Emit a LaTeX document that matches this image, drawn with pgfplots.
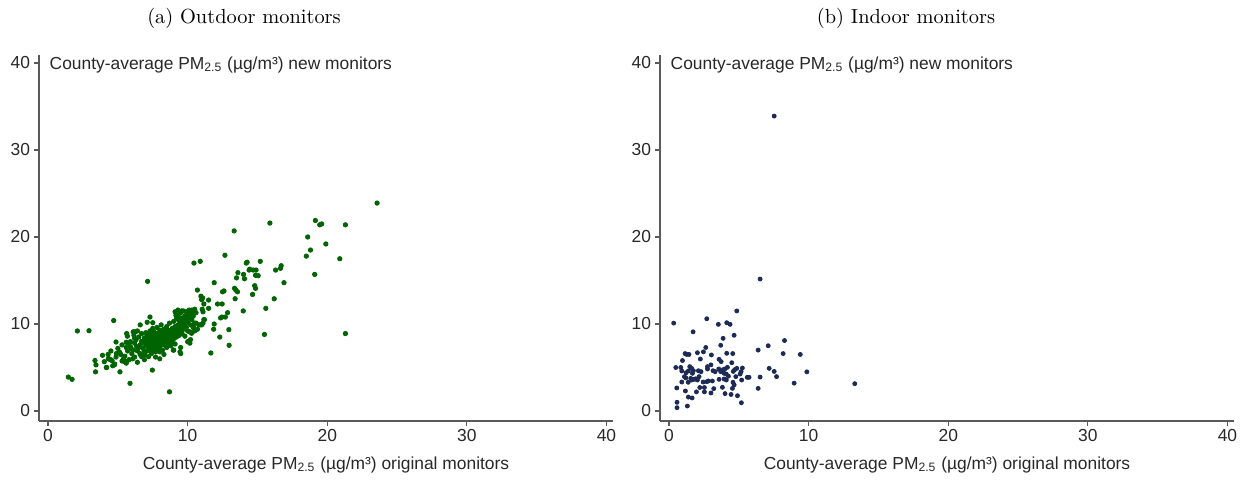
\documentclass[border=0pt]{standalone}
\usepackage{fontspec}
\usepackage{pgfplots}
\pgfplotsset{compat=1.18}
\newfontfamily\hv{Liberation Sans}
\definecolor{outg}{RGB}{0,100,0}
\definecolor{innav}{RGB}{28,42,84}
\definecolor{axg}{RGB}{90,90,90}
\definecolor{txg}{RGB}{40,40,40}
\pgfplotsset{stataax/.style={
  scale only axis, width=287pt, height=183pt,
  xmin=-0.65, xmax=40.47, ymin=-1.15, ymax=40.92,
  axis lines=left, axis line style={-, axg, line width=0.6pt},
  xtick={0,10,20,30,40}, ytick={0,10,20,30,40},
  tick style={axg, line width=0.6pt}, major tick length=2.5pt, tick align=outside,
  /pgf/number format/assume math mode=true,
  tick label style={font=\hv\fontsize{8.7}{10}\selectfont, text=txg},
  xticklabel style={yshift=2pt}, yticklabel style={xshift=1.5pt},
  clip=false,
}}
\newcommand{\lab}{\hv\fontsize{8.7}{10}\selectfont}
\begin{document}
\begin{tikzpicture}
\path[use as bounding box] (-19.5pt,-30pt) rectangle (604pt,210.5pt);
\begin{axis}[stataax, at={(0pt,0pt)}, anchor=south west]
\addplot[only marks, mark=*, mark size=1.1pt, color=outg, mark options={draw=outg, fill=outg}] table {
x y
23.57 23.9
21.3 21.4
19.15 21.9
19.46 21.4
19.6 21.5
18.6 20.0
19.9 19.2
18.8 18.5
18.5 17.8
20.9 17.5
19.1 15.7
21.3 8.9
15.89 21.6
13.33 20.7
12.67 17.9
10.45 17.0
10.9 17.2
15.2 17.2
14.2 17.0
14.26 17.1
13.6 15.9
13.5 15.3
14.4 16.2
14.45 16.3
14.7 16.2
14.9 16.2
14.0 15.7
14.07 15.2
14.86 15.6
15.05 15.55
16.3 16.2
16.65 16.4
16.7 16.7
16.9 14.75
11.9 14.75
13.36 14.1
13.45 13.9
13.57 13.7
14.8 14.4
14.86 14.1
12.5 13.7
12.6 13.8
10.7 13.9
13.4 12.9
14.65 13.4
16.2 12.9
15.6 11.8
13.98 11.5
15.5 8.8
12.95 9.35
12.3 8.5
12.97 7.55
11.66 6.67
12.47 12.3
12.14 12.3
12.86 11.3
12.36 10.7
12.45 10.8
12.7 10.8
11.9 10.0
11.86 9.4
11.5 12.75
11.5 11.8
11.16 12.3
10.95 13.2
11.07 13.0
11.0 12.8
10.5 11.7
10.35 11.4
11.04 11.7
11.1 11.4
11.16 10.5
10.8 9.9
11.0 9.9
10.4 9.7
10.5 9.2
10.0 7.97
10.16 7.8
9.45 6.8
9.5 6.6
8.7 2.2
7.47 4.7
5.87 3.18
5.15 4.5
1.45 3.9
1.72 3.64
2.1 9.2
2.93 9.23
4.7 10.4
7.13 14.9
4.87 7.93
3.36 5.8
3.43 5.3
3.4 4.5
3.9 6.4
4.03 5.67
4.17 5.0
4.37 6.0
4.58 5.8
4.63 5.2
4.77 5.4
4.87 6.2
5.1 6.8
5.2 6.5
5.3 5.75
5.5 5.67
5.68 8.6
5.6 7.9
5.94 7.2
6.06 6.0
6.23 9.1
6.6 9.9
6.4 9.2
7.1 10.2
7.3 10.8
7.5 10.15
10.2 8.2
5.63 8.9
6.15 8.7
5.9 7.97
4.32 6.0
4.48 5.9
4.2 5.0
4.75 5.3
5.08 6.7
5.46 5.75
9.1 11.4
9.3 11.6
9.57 11.5
9.16 11.0
9.33 10.84
10.0 10.84
10.28 11.15
10.5 11.5
10.6 10.1
10.9 9.9
11.1 10.1
11.2 10.5
10.16 9.1
10.28 8.93
8.97 7.0
8.5 8.16
8.73 7.8
5.75 7.8
6.1 9.1
6.2 8.35
6.35 7.4
5.15 6.67
5.4 5.9
5.63 5.67
6.6 6.6
6.7 6.25
6.94 6.44
7.2 6.25
7.5 7.0
7.9 7.2
8.0 6.8
5.5 6.3
5.7 6.9
5.8 5.9
5.9 7.4
6.0 6.6
6.1 7.0
6.2 6.2
6.2 7.8
6.3 8.2
6.4 6.9
6.5 7.3
6.5 8.5
6.6 6.5
6.6 7.6
6.7 8.0
6.7 8.9
6.8 7.2
6.8 7.9
6.9 6.8
6.9 8.4
7.0 7.5
7.0 8.1
7.0 9.0
7.1 6.9
7.1 7.7
7.1 8.6
7.2 7.3
7.2 8.0
7.2 8.8
7.3 7.0
7.3 7.6
7.3 8.3
7.3 9.2
7.4 7.8
7.4 8.5
7.4 6.6
7.5 7.4
7.5 8.1
7.5 8.9
7.5 9.5
7.6 7.1
7.6 7.7
7.6 8.4
7.6 9.1
7.7 7.9
7.7 8.6
7.7 6.8
7.8 7.5
7.8 8.2
7.8 8.9
7.8 9.6
7.9 7.8
7.9 8.5
8.0 8.0
8.0 8.7
8.0 9.3
8.0 7.4
8.1 7.7
8.1 8.3
8.1 9.0
8.1 9.9
8.2 7.0
8.2 8.1
8.2 8.8
8.3 7.6
8.3 8.4
8.3 9.4
8.4 7.9
8.4 8.6
8.4 9.1
8.5 7.3
8.5 8.2
8.5 8.9
8.5 9.7
8.6 7.8
8.6 8.5
8.6 9.3
8.7 8.0
8.7 8.8
8.7 10.1
8.8 7.5
8.8 8.4
8.8 9.0
8.9 8.7
8.9 9.5
8.9 7.9
9.0 8.3
9.0 9.2
9.0 10.3
9.1 8.9
9.1 9.7
9.1 7.7
9.2 8.5
9.2 9.4
9.2 10.6
9.3 9.0
9.3 9.9
9.3 11.0
9.4 8.7
9.4 9.6
9.4 10.4
9.5 9.2
9.5 10.1
9.5 11.3
9.6 8.9
9.6 9.8
9.6 10.7
9.7 9.4
9.7 10.3
9.7 11.5
9.8 10.0
9.8 10.9
9.8 8.6
9.9 9.6
9.9 10.5
9.9 11.4
10.0 10.2
10.0 11.0
10.0 9.2
10.1 10.7
10.1 11.6
10.2 9.9
10.2 11.2
10.3 10.5
10.3 11.6
10.4 9.6
10.4 10.9
10.5 10.1
10.6 11.3
10.7 9.4
6.4 5.6
6.9 5.9
7.7 6.2
8.3 6.5
9.0 7.0
9.5 7.3
8.0 6.0
4.3 6.5
4.5 6.9
4.9 6.6
5.0 7.2
5.3 7.6
5.4 6.0
5.6 7.3
5.6 5.5
};
\node[anchor=west, font=\lab, text=txg, inner sep=0pt] at (axis cs:0.09,39.8) {County-average PM\textsubscript{2.5} (µg/m³) new monitors};
\node[anchor=center, font=\lab, text=txg, inner sep=0pt] at (rel axis cs:0.5,0) [yshift=-22pt] {County-average PM\textsubscript{2.5} (µg/m³) original monitors};
\end{axis}
\begin{axis}[stataax, at={(310.5pt,0pt)}, anchor=south west]
\addplot[only marks, mark=*, mark size=1.0pt, color=innav, mark options={draw=innav, fill=innav}] table {
x y
0.33 10.1
2.7 10.6
4.85 11.5
3.53 9.96
4.13 10.15
4.37 9.96
1.72 9.1
4.66 8.7
3.87 8.35
3.7 7.55
2.63 7.3
6.38 7.0
7.1 7.5
8.27 8.1
8.17 6.6
9.4 6.5
9.87 4.5
8.96 3.2
13.3 3.14
7.17 4.9
7.53 4.55
7.7 3.95
6.52 3.9
6.38 2.6
5.73 3.87
5.6 3.87
5.18 0.95
4.9 1.76
4.44 1.9
4.01 2.0
3.0 2.07
2.53 2.2
1.96 2.2
1.65 1.5
1.38 1.6
1.31 0.57
0.57 1.0
0.57 0.38
0.55 2.65
0.48 5.0
0.84 5.0
0.91 4.6
0.96 5.8
1.15 6.6
1.27 6.5
1.43 6.5
1.1 3.95
1.2 3.8
0.91 3.33
1.17 2.3
1.37 3.3
1.55 3.75
1.62 3.56
1.22 4.4
1.38 4.6
1.48 5.1
1.62 4.9
1.74 4.63
1.67 4.33
1.79 3.64
2.03 6.7
2.46 6.8
2.24 5.97
2.1 4.63
2.29 4.52
2.15 3.95
1.91 3.7
2.03 3.56
2.44 3.33
2.75 5.1
2.75 4.83
2.7 3.37
2.82 3.45
2.53 2.7
2.2 2.7
3.03 6.44
3.0 5.3
3.15 4.63
3.3 4.52
3.1 3.45
3.2 2.57
3.58 5.94
3.73 5.67
3.56 4.83
3.7 4.52
3.58 3.64
3.82 2.72
3.87 4.75
3.99 4.83
3.94 4.33
4.1 4.25
3.94 3.68
4.1 3.56
4.13 6.63
4.49 5.55
4.56 6.6
4.18 5.02
4.6 4.55
4.7 4.75
4.78 3.95
4.58 3.3
4.66 3.0
4.54 2.6
4.85 4.9
5.09 4.25
5.16 4.52
5.25 4.94
5.2 3.56
4.25 4.0
7.53 33.9
6.52 15.17
};
\node[anchor=west, font=\lab, text=txg, inner sep=0pt] at (axis cs:0.09,39.8) {County-average PM\textsubscript{2.5} (µg/m³) new monitors};
\node[anchor=center, font=\lab, text=txg, inner sep=0pt] at (rel axis cs:0.5,0) [yshift=-22pt] {County-average PM\textsubscript{2.5} (µg/m³) original monitors};
\end{axis}
\node[font=\fontsize{10.2}{12}\selectfont] at (102.5pt,201.5pt) {(a) Outdoor monitors};
\node[font=\fontsize{10.2}{12}\selectfont] at (433.5pt,201.5pt) {(b) Indoor monitors};
\end{tikzpicture}
\end{document}
